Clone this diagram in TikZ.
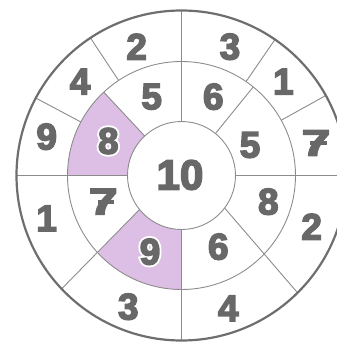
\documentclass[tikz,border=0pt]{standalone}
\usepackage{fontspec}
\setmainfont{Liberation Sans}
\newfontface\numfont{Liberation Sans Bold}[FakeBold=4]
\newfontface\halofont{Liberation Sans Bold}[FakeBold=14]
\usepackage{graphicx}
\usepackage{tikz}
\definecolor{numgray}{RGB}{104,104,104}
\definecolor{linegray}{RGB}{140,140,140}
\definecolor{rimgray}{RGB}{110,110,110}
\definecolor{lilac}{RGB}{221,190,228}
\tikzstyle{digit} = [font=\numfont\fontsize{37}{40}\selectfont, text=numgray, inner sep=0pt]
\tikzstyle{bignum} = [font=\numfont\fontsize{42}{46}\selectfont, text=numgray, inner sep=0pt]
\tikzstyle{glow} = [font=\halofont\fontsize{37}{40}\selectfont, text=white, inner sep=0pt]
\tikzstyle{spoke} = [draw=linegray, line width=0.9pt]
\tikzstyle{rim} = [draw=rimgray, line width=2.2pt]
% seven with a crossbar, a bit wider than the font's own
\newcommand{\barseven}{\scalebox{1.4}[1]{\makebox[0pt][l]{\hspace{0.17em}\rule[0.29em]{0.32em}{0.1em}}7}}

\begin{document}
\begin{tikzpicture}[x=1pt, y=1pt]
    \useasboundingbox (-181.5,-167.5) rectangle (155.5,175.5);
    \clip (-181.5,-167.5) rectangle (155.5,175.5);
    % lilac cells
    \fill[lilac] (133:54) -- (133:114) arc[start angle=133, end angle=180, radius=114]
        -- (180:54) arc[start angle=180, end angle=133, radius=54] -- cycle;
    \fill[lilac] (219:54) -- (222.8:114) arc[start angle=222.8, end angle=270, radius=114]
        -- (270:54) arc[start angle=270, end angle=219, radius=54] -- cycle;
    % rings and spokes
    \draw[spoke] (0,0) circle (54);
    \draw[spoke] (0,0) circle (114);
    \foreach \a in {0,90,180,270}
        \draw[spoke] (\a:54) -- (\a:165);
    \foreach \a in {51,133}
        \draw[spoke] (\a:54) -- (\a:114);
    \foreach \a in {29,55.5,123.5,152}
        \draw[spoke] (\a:114) -- (\a:165);
    \draw[spoke] (219:54) -- (223.4:165);
    \draw[spoke] (-37:54) -- (-45.3:165);
    \draw[rim] (0,0) circle (165);
    % centre
    \node[bignum] (centre) at (-1.5,0.5) {10};
    % middle ring
    \node[digit] (m1) at (-29.8,78.8) {5};
    \node[digit] (m2) at (31.8,78.8) {6};
    \node[digit] (m3) at (68.5,30.5) {5};
    \node[digit] (m4) at (86.8,-26.2) {8};
    \node[digit] (m5) at (36.8,-71.2) {6};
    \node[digit] (m7) at (-78.2,-26.2) {\barseven};
    \node[glow] at (-31.5,-76.2) {9};
    \node[glow] at (-73.2,34.5) {8};
    \node[digit] (m6) at (-31.5,-76.2) {9};
    \node[digit] (m8) at (-73.2,34.5) {8};
    % outer ring
    \node[digit] (o1) at (-44.8,128.8) {2};
    \node[digit] (o2) at (48.5,128.8) {3};
    \node[digit] (o3) at (101.8,93.8) {1};
    \node[digit] (o4) at (134.5,32.5) {\barseven};
    \node[digit] (o5) at (130.2,-51.2) {2};
    \node[digit] (o6) at (46.8,-132.8) {4};
    \node[digit] (o7) at (-53.2,-131.2) {3};
    \node[digit] (o8) at (-134.8,-42.8) {1};
    \node[digit] (o9) at (-134.8,38.8) {9};
    \node[digit] (o10) at (-101.5,93.8) {4};
\end{tikzpicture}
\end{document}
